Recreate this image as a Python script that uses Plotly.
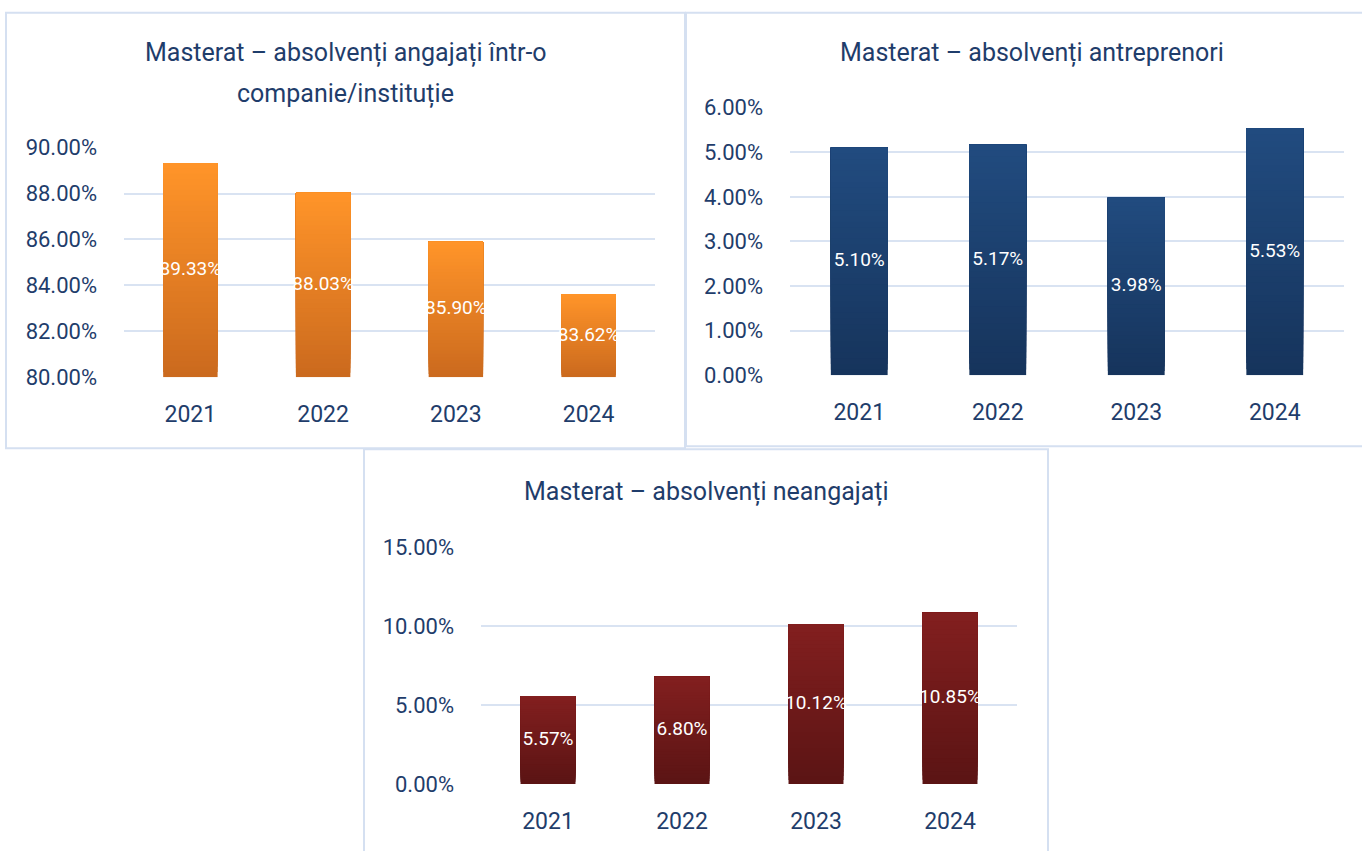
import plotly.graph_objects as go

# date
ani = ['2021', '2022', '2023', '2024']
angajati = [89.33, 88.03, 85.90, 83.62]
antreprenori = [5.10, 5.17, 3.98, 5.53]
neangajati = [5.57, 6.80, 10.12, 10.85]

titluri = [
    ['Masterat – absolvenți angajați într-o', 'companie/instituție'],
    ['Masterat – absolvenți antreprenori'],
    ['Masterat – absolvenți neangajați'],
]

W, H = 1362, 851
TEXT = '#1F3D6B'
GRID = '#D9E3F2'
FONT = 'Roboto'


def px_x(x):
    return x / W


def px_y(y):
    # corectie pentru decalajul vertical observat la captura
    y = (y - 11.3) / 0.9715
    return 1 - y / H


def mix(c1, c2, t):
    a = [int(c1[i:i + 2], 16) for i in (1, 3, 5)]
    b = [int(c2[i:i + 2], 16) for i in (1, 3, 5)]
    return 'rgb({},{},{})'.format(*[round(a[i] + (b[i] - a[i]) * t) for i in range(3)])


# fiecare panou: valori, baza axei, interval, pas, culori, pozitii (pixeli)
panouri = [
    dict(vals=angajati, lo=80, hi=90, dt=2, top='#FF9429', bot='#CB6A1E',
         x=(124, 655), y=(377, 147), box=(6, 12, 685, 448), title=(346, [52, 93])),
    dict(vals=antreprenori, lo=0, hi=6, dt=1, top='#214B7F', bot='#16345C',
         x=(790, 1344), y=(375, 107), box=(686, 12, 1375, 446), title=(1032, [52])),
    dict(vals=neangajati, lo=0, hi=15, dt=5, top='#821F1F', bot='#5B1414',
         x=(481, 1017), y=(784, 547), box=(364, 449, 1048, 880), title=(706, [492])),
]

fig = go.Figure()
N = 40
layout = {}
for i, p in enumerate(panouri):
    sfx = '' if i == 0 else str(i + 1)
    xa, ya = 'x' + sfx, 'y' + sfx
    lo = p['lo']
    # bara cu gradient: segmente suprapuse de jos in sus
    for k in range(N):
        t = k / (N - 1)
        baze = [lo + (v - lo) * k / N for v in p['vals']]
        fig.add_trace(go.Bar(
            x=ani, y=[v - b for v, b in zip(p['vals'], baze)], base=baze,
            width=0.41, marker=dict(color=mix(p['bot'], p['top'], t), line=dict(width=0)),
            xaxis=xa, yaxis=ya, showlegend=False, hoverinfo='skip'))
    fig.add_trace(go.Scatter(
        x=ani, y=[lo + (v - lo) / 2 for v in p['vals']], mode='text',
        text=['{:.2f}%'.format(v) for v in p['vals']],
        textfont=dict(family=FONT, size=19, color='white'),
        xaxis=xa, yaxis=ya, showlegend=False, hoverinfo='skip'))

    layout['xaxis' + sfx] = dict(
        domain=[px_x(p['x'][0]), px_x(p['x'][1])], anchor=ya,
        showgrid=False, showline=False, zeroline=False, ticks='',
        tickfont=dict(family=FONT, size=23, color=TEXT), ticklabelstandoff=21)
    layout['yaxis' + sfx] = dict(
        domain=[px_y(p['y'][0]), px_y(p['y'][1])], anchor=xa,
        range=[p['lo'], p['hi']], dtick=p['dt'], tick0=p['lo'],
        tickformat='.2f', ticksuffix='%',
        showgrid=True, gridcolor=GRID, gridwidth=2, zeroline=False, showline=False,
        tickfont=dict(family=FONT, size=22, color=TEXT), ticklabelstandoff=26)

    x0, y0, x1, y1 = p['box']
    fig.add_shape(type='rect', xref='paper', yref='paper',
                  x0=px_x(x0), x1=px_x(x1), y0=px_y(y1), y1=px_y(y0),
                  line=dict(color='#D5E0F1', width=2), fillcolor='rgba(0,0,0,0)')
    tx, tys = p['title']
    for rand, ty in zip(titluri[i], tys):
        fig.add_annotation(text=rand, xref='paper', yref='paper',
                           x=px_x(tx), y=px_y(ty),
                           xanchor='center', yanchor='middle', showarrow=False,
                           font=dict(family=FONT, size=25, color=TEXT))

fig.update_layout(
    width=W, height=H, margin=dict(l=0, r=0, t=0, b=0),
    barmode='overlay', plot_bgcolor='white', paper_bgcolor='white',
    **layout)

fig.write_html('out.html', config={'displayModeBar': False},
               post_script="document.body.style.margin='0';"
                           "document.body.style.overflow='hidden';"
                           "document.documentElement.style.overflow='hidden';")
